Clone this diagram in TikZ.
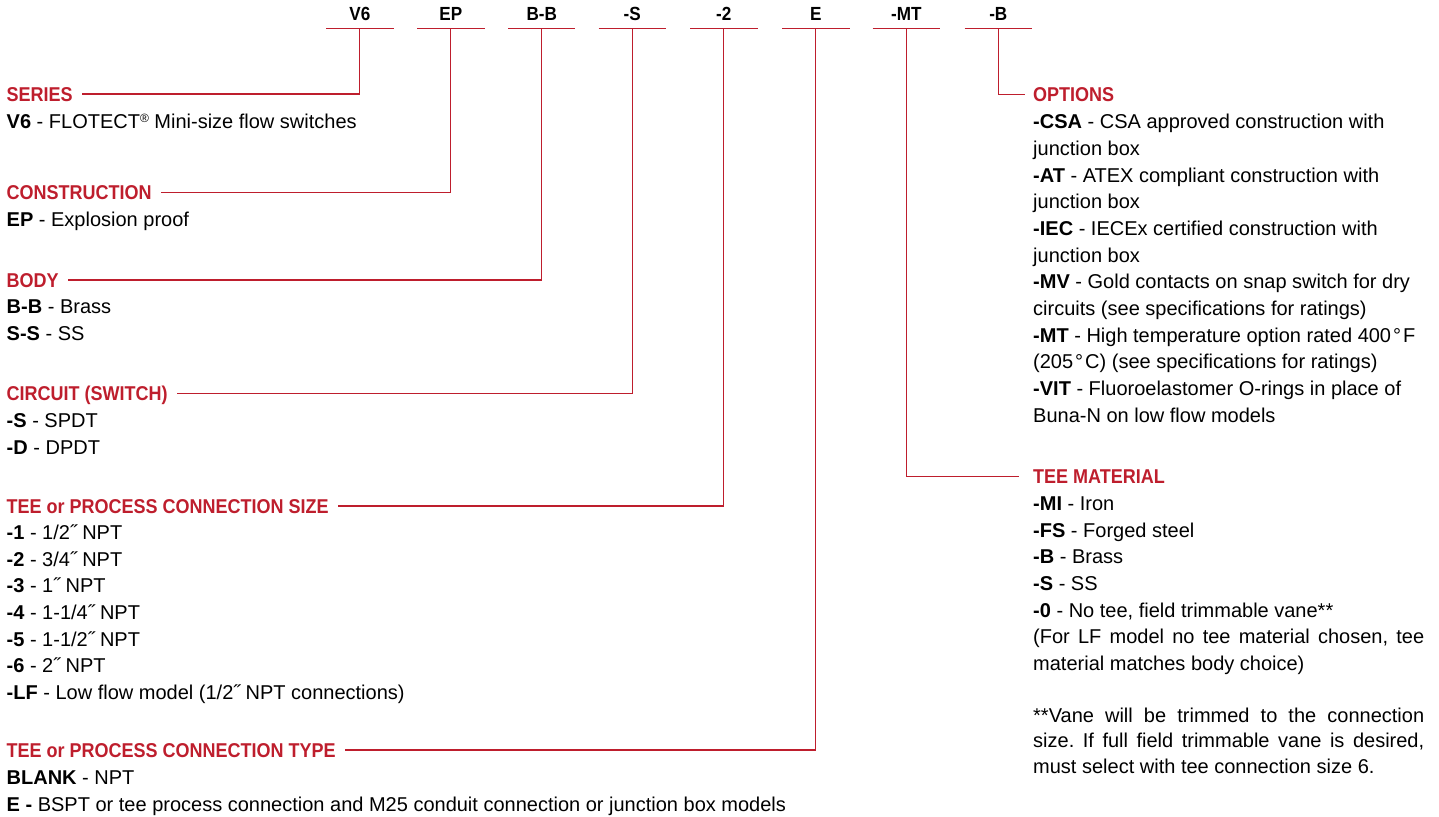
\documentclass[tikz,border=0pt]{standalone}
\usepackage{fontspec}
\setmainfont{Liberation Sans}
\newfontfamily\condfont[FakeStretch=0.9]{Liberation Sans}
\definecolor{leadred}{RGB}{190,30,45}
\frenchspacing
\tikzset{
  code/.style={font=\condfont\bfseries\fontsize{19}{22}\selectfont, anchor=south,
    minimum width=67pt, inner sep=0pt, text height=13.3pt, text depth=7.6pt},
  head/.style={font=\condfont\bfseries\fontsize{20}{24}\selectfont, text=leadred,
    anchor=west, inner sep=0pt, text height=14pt, text depth=0pt},
  item/.style={font=\fontsize{20}{24}\selectfont, anchor=base west, inner sep=0pt},
  lead/.style={draw=leadred, line width=1.3pt},
}
\begin{document}
\begin{tikzpicture}[x=1pt,y=-1pt]
  \useasboundingbox (0,0) rectangle (1439,816);
  % model code
  \node[code] (cV6) at (359.8,28.3) {V6};
  \node[code] (cEP) at (450.8,28.3) {EP};
  \node[code] (cBB) at (541.7,28.3) {B-B};
  \node[code] (cS) at (632.2,28.3) {-S};
  \node[code] (c2) at (723.8,28.3) {-2};
  \node[code] (cE) at (815.8,28.3) {E};
  \node[code] (cMT) at (906.3,28.3) {-MT};
  \node[code] (cB) at (998.3,28.3) {-B};

  % left column
  \node[head] (hSeries) at (6.5,94) {SERIES};
  \node[item] (iV6) at (6.5,128.6) {\textbf{V6} - FLOTECT\raisebox{6pt}{\fontsize{12}{12}\selectfont ®} Mini-size flow switches};

  \node[head] (hConstr) at (6.5,192.5) {CONSTRUCTION};
  \node[item] (iEP) at (6.5,226.6) {\textbf{EP} - Explosion proof};

  \node[head] (hBody) at (6.5,280) {BODY};
  \node[item] (iBB) at (6.5,313.8) {\textbf{B-B} - Brass};
  \node[item] (iSS) at (6.5,340.4) {\textbf{S-S} - SS};

  \node[head] (hCircuit) at (6.5,393.5) {CIRCUIT (SWITCH)};
  \node[item] (iS) at (6.5,427.6) {\textbf{-S} - SPDT};
  \node[item] (iD) at (6.5,454.6) {\textbf{-D} - DPDT};

  \node[head] (hSize) at (6.5,506) {TEE or PROCESS CONNECTION SIZE};
  \node[item] (i1) at (6.5,539.6) {\textbf{-1} - 1/2˝ NPT};
  \node[item] (i2) at (6.5,566.1) {\textbf{-2} - 3/4˝ NPT};
  \node[item] (i3) at (6.5,592.6) {\textbf{-3} - 1˝ NPT};
  \node[item] (i4) at (6.5,619.1) {\textbf{-4} - 1-1/4˝ NPT};
  \node[item] (i5) at (6.5,646.1) {\textbf{-5} - 1-1/2˝ NPT};
  \node[item] (i6) at (6.5,672.6) {\textbf{-6} - 2˝ NPT};
  \node[item] (iLF) at (6.5,699.1) {\textbf{-LF} - Low flow model (1/2˝ NPT connections)};

  \node[head] (hType) at (6.5,750) {TEE or PROCESS CONNECTION TYPE};
  \node[item] (iBlank) at (6.5,784.6) {\textbf{BLANK} - NPT};
  \node[item] (iBspt) at (6.5,811.6) {\textbf{E -} BSPT or tee process connection and M25 conduit connection or junction box models};

  % right column
  \node[head] (hOptions) at (1033,94.3) {OPTIONS};
  \node[item] (oCSA) at (1033,128.8) {\textbf{-CSA} - CSA approved construction with};
  \node[item] (oCSA2) at (1033,155.4) {junction box};
  \node[item] (oAT) at (1033,182.1) {\textbf{-AT} - ATEX compliant construction with};
  \node[item] (oAT2) at (1033,208.8) {junction box};
  \node[item] (oIEC) at (1033,235.4) {\textbf{-IEC} - IECEx certified construction with};
  \node[item] (oIEC2) at (1033,262.1) {junction box};
  \node[item] (oMV) at (1033,288.8) {\textbf{-MV} - Gold contacts on snap switch for dry};
  \node[item] (oMV2) at (1033,315.4) {circuits (see specifications for ratings)};
  \node[item] (oMT) at (1033,342.1) {\textbf{-MT} - High temperature option rated 400\kern2pt°\kern2pt F};
  \node[item] (oMT2) at (1033,368.8) {(205\kern2pt°\kern2pt C) (see specifications for ratings)};
  \node[item] (oVIT) at (1033,395.4) {\textbf{-VIT} - Fluoroelastomer O-rings in place of};
  \node[item] (oVIT2) at (1033,422.1) {Buna-N on low flow models};

  \node[head] (hTee) at (1033,476.7) {TEE MATERIAL};
  \node[item] (tMI) at (1033,510.4) {\textbf{-MI} - Iron};
  \node[item] (tFS) at (1033,537.1) {\textbf{-FS} - Forged steel};
  \node[item] (tB) at (1033,563.8) {\textbf{-B} - Brass};
  \node[item] (tS) at (1033,590.4) {\textbf{-S} - SS};
  \node[item] (t0) at (1033,617.1) {\textbf{-0} - No tee, field trimmable vane**};
  \node[item] (tLF) at (1033,643.8) {\makebox[391pt][s]{(For LF model no tee material chosen, tee}};
  \node[item] (tLF2) at (1033,670.4) {material matches body choice)};

  \node[item] (nVane) at (1033,722.1) {\makebox[391pt][s]{**Vane will be trimmed to the connection}};
  \node[item] (nVane2) at (1033,747.8) {\makebox[391pt][s]{size. If full field trimmable vane is desired,}};
  \node[item] (nVane3) at (1033,773.1) {must select with tee connection size 6.};

  % underlines
  \draw[lead] (cV6.south west) -- (cV6.south east);
  \draw[lead] (cEP.south west) -- (cEP.south east);
  \draw[lead] (cBB.south west) -- (cBB.south east);
  \draw[lead] (cS.south west) -- (cS.south east);
  \draw[lead] (c2.south west) -- (c2.south east);
  \draw[lead] (cE.south west) -- (cE.south east);
  \draw[lead] (cMT.south west) -- (cMT.south east);
  \draw[lead] (cB.south west) -- (cB.south east);

  % leaders
  \draw[lead] (cV6.south) |- ([xshift=9pt]hSeries.east);
  \draw[lead] (cEP.south) |- ([xshift=9pt]hConstr.east);
  \draw[lead] (cBB.south) |- ([xshift=9pt]hBody.east);
  \draw[lead] (cS.south) |- ([xshift=9pt]hCircuit.east);
  \draw[lead] (c2.south) |- ([xshift=9pt]hSize.east);
  \draw[lead] (cE.south) |- ([xshift=9pt]hType.east);
  \draw[lead] (cMT.south) |- ([xshift=-14pt]hTee.west);
  \draw[lead] (cB.south) |- ([xshift=-8pt]hOptions.west);
\end{tikzpicture}
\end{document}
